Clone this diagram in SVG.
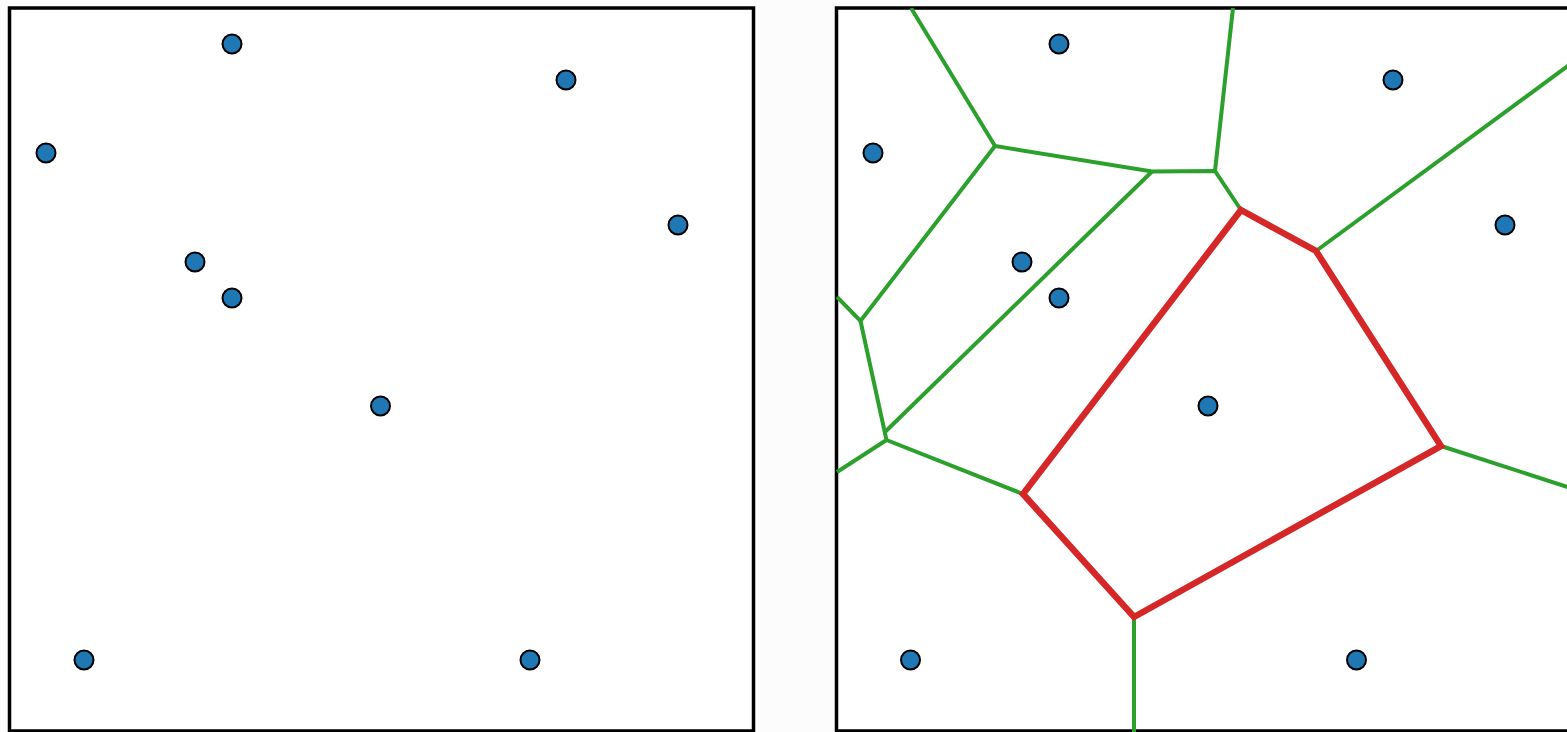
<svg xmlns="http://www.w3.org/2000/svg" width="1567" height="732" viewBox="0 0 1567 732">
<defs>
<style>
.box{fill:#ffffff;stroke:#000000;stroke-width:3.5}
.pt{fill:#1f77b4;stroke:#000000;stroke-width:2}
.g{stroke:#2ca02c;stroke-width:4;fill:none;stroke-linecap:butt;stroke-linejoin:miter}
.r{stroke:#d62728;stroke-width:6.5;fill:none;stroke-linejoin:miter}
</style>
<clipPath id="clipR"><rect x="836" y="8" width="744" height="724"/></clipPath>
</defs>
<rect x="0" y="0" width="1567" height="732" fill="#fcfcfc"/>
<g id="left-panel">
<rect class="box" x="9.5" y="8" width="744" height="723"/>
</g>
<g id="right-panel">
<rect class="box" x="836.5" y="8" width="744" height="723"/>
</g>
<g id="connectors" clip-path="url(#clipR)">
<path class="g" d="M911,8 L995,146 L1152,171.5 L1215,171 L1241,210"/>
<path class="g" d="M1233,8 L1215,171"/>
<path class="g" d="M995,146 L860.5,321 L837,297"/>
<path class="g" d="M1152,171.5 L885,432"/>
<path class="g" d="M860.5,321 L886.5,440 L837,472"/>
<path class="g" d="M886.5,440 L1023,494"/>
<path class="g" d="M1316,251 L1580,57"/>
<path class="g" d="M1441,446 L1580,491"/>
<path class="g" d="M1134,617 L1134,732"/>
<path class="r" d="M1241,210 L1316,251 L1441,446 L1134,617 L1023,494 Z"/>
</g>
<g id="points-left">
<circle class="pt" cx="232" cy="44" r="9.5"/>
<circle class="pt" cx="566" cy="80" r="9.5"/>
<circle class="pt" cx="46" cy="153" r="9.5"/>
<circle class="pt" cx="678" cy="225" r="9.5"/>
<circle class="pt" cx="195" cy="262" r="9.5"/>
<circle class="pt" cx="232" cy="298" r="9.5"/>
<circle class="pt" cx="380.5" cy="406" r="9.5"/>
<circle class="pt" cx="84" cy="660" r="9.5"/>
<circle class="pt" cx="530" cy="660" r="9.5"/>
</g>
<g id="points-right">
<circle class="pt" cx="1059" cy="44" r="9.5"/>
<circle class="pt" cx="1393" cy="80" r="9.5"/>
<circle class="pt" cx="873" cy="153" r="9.5"/>
<circle class="pt" cx="1505" cy="225" r="9.5"/>
<circle class="pt" cx="1022" cy="262" r="9.5"/>
<circle class="pt" cx="1059" cy="298" r="9.5"/>
<circle class="pt" cx="1208" cy="406" r="9.5"/>
<circle class="pt" cx="910.5" cy="660" r="9.5"/>
<circle class="pt" cx="1356.5" cy="660" r="9.5"/>
</g>
</svg>
